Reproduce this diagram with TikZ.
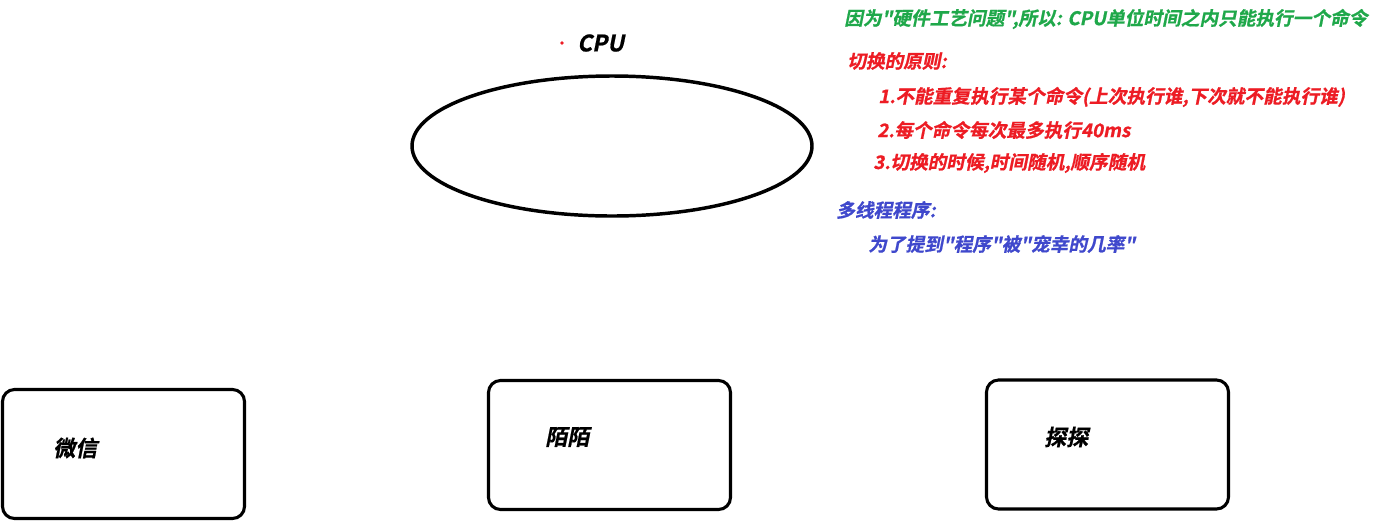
\documentclass[tikz,border=0pt]{standalone}
\usepackage{fontspec}
\usetikzlibrary{shapes.geometric}
\newfontfamily\cjkbi{Noto Sans CJK SC Bold}[FakeSlant=0.2,FakeBold=0.8]
\definecolor{pgreen}{HTML}{1FA84A}
\definecolor{pred}{HTML}{ED1C24}
\definecolor{pblue}{HTML}{3F48CC}
\begin{document}
\begin{tikzpicture}[x=0.75pt,y=-0.75pt,
  appbox/.style={draw=black,line width=2.3pt,rounded corners=9pt,minimum width=181.5pt,minimum height=96.75pt,inner sep=0pt},
  applabel/.style={font=\cjkbi\fontsize{16.5}{18}\selectfont,inner sep=0pt,anchor=west},
  note/.style={font=\cjkbi\fontsize{14}{16}\selectfont,inner sep=0pt,anchor=west}]
\useasboundingbox[fill=white] (0,0) rectangle (1377,522);
% CPU
\node[draw=black,line width=2.6pt,ellipse,minimum width=300pt,minimum height=105pt,inner sep=0pt] (cpu) at (612,146) {};
\fill[pred] (562,43) circle [radius=1.8];
\node[font=\cjkbi\fontsize{17}{19}\selectfont,inner sep=0pt,anchor=west] (cpulabel) at (577,43) {CPU};
% apps
\node[appbox] (wx) at (123.5,454) {};
\node[applabel] (wxl) at (53,448) {微信};
\node[appbox] (mm) at (609.5,445) {};
\node[applabel] (mml) at (545,437) {陌陌};
\node[appbox] (tt) at (1107.5,444.5) {};
\node[applabel] (ttl) at (1044,437) {探探};
% notes
\node[note,text=pgreen] (n1) at (844,19) {因为"硬件工艺问题",所以: CPU单位时间之内只能执行一个命令};
\node[note,text=pred] (n2) at (847,61) {切换的原则:};
\node[note,text=pred] (n3) at (878,97) {1.不能重复执行某个命令(上次执行谁,下次就不能执行谁)};
\node[note,text=pred] (n4) at (877,130) {2.每个命令每次最多执行40ms};
\node[note,text=pred] (n5) at (873,163) {3.切换的时候,时间随机,顺序随机};
\node[note,text=pblue] (n6) at (836,210) {多线程程序:};
\node[note,text=pblue] (n7) at (868,244) {为了提到"程序"被"宠幸的几率"};
\end{tikzpicture}
\end{document}
